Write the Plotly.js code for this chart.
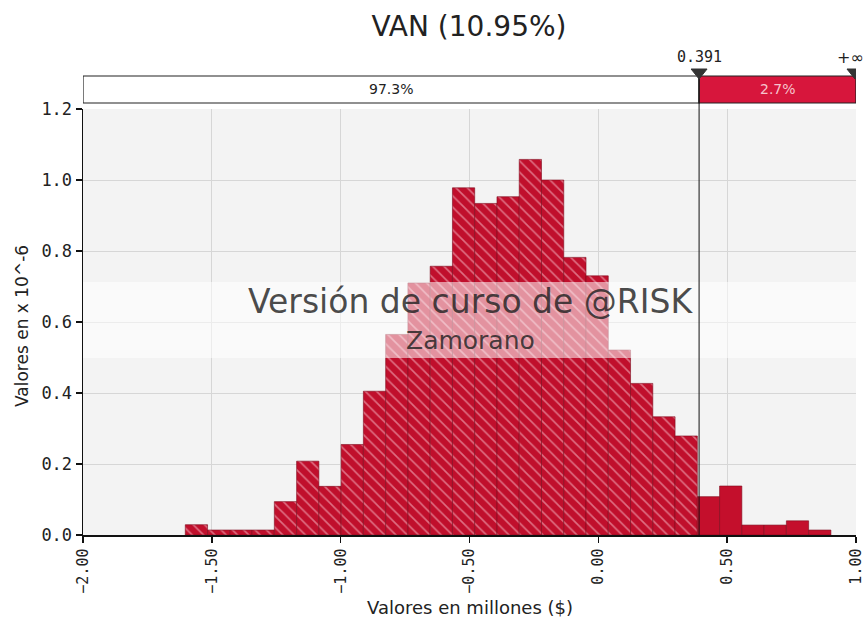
<!DOCTYPE html>
<html>
<head>
<meta charset="utf-8">
<script src="https://cdn.plot.ly/plotly-3.0.1.min.js"></script>
<style>html,body{margin:0;padding:0;background:#fff;}#chart{width:864px;height:625px;}</style>
</head>
<body>
<div id="chart"></div>
<script>
// ---- data ----
const chartTitle = "VAN (10.95%)";
const xAxisTitle = "Valores en millones ($)";
const yAxisTitle = "Valores en x 10^-6";
const binWidth = 0.0864;
// lower edges of the histogram bins (millions $)
const binLeft = [-1.6030, -1.5166, -1.4302, -1.3438, -1.2574, -1.1710, -1.0846, -0.9982,
  -0.9118, -0.8254, -0.7390, -0.6526, -0.5662, -0.4798, -0.3934, -0.3070, -0.2206, -0.1342,
  -0.0478, 0.0386, 0.1250, 0.2114, 0.2978, 0.3842, 0.4706, 0.5570, 0.6434, 0.7298, 0.8162];
// bar heights (x 10^-6)
const density = [0.029, 0.014, 0.014, 0.014, 0.094, 0.208, 0.137, 0.255, 0.405, 0.565,
  0.710, 0.757, 0.978, 0.934, 0.953, 1.058, 1.000, 0.782, 0.730, 0.521, 0.427, 0.333,
  0.279, 0.108, 0.138, 0.028, 0.028, 0.040, 0.014];
const cutoff = 0.391;
const leftPctLabel = "97.3%";
const rightPctLabel = "2.7%";
const cutoffLabel = "0.391";
const upperLabel = "+\u221E";
const xTickVals = [-2.0, -1.5, -1.0, -0.5, 0.0, 0.5, 1.0];
const watermark1 = "Versi\u00F3n de curso de @RISK";
const watermark2 = "Zamorano";

// split bins into the left (hatched) and right (solid) regions
const split = 23;
const xLeft = binLeft.slice(0, split), yLeft = density.slice(0, split);
const xRight = binLeft.slice(split), yRight = density.slice(split);

const red = "#C00F2C";
const traces = [
  {
    type: "bar", x: xLeft, y: yLeft, offset: 0, width: binWidth,
    marker: {
      color: red,
      line: {color: "#7d0a1c", width: 0.6},
      pattern: {shape: "\\", fgcolor: "rgba(255,215,225,0.95)", bgcolor: red, size: 8, solidity: 0.2, fillmode: "overlay"}
    },
    hoverinfo: "x+y", showlegend: false
  },
  {
    type: "bar", x: xRight, y: yRight, offset: 0, width: binWidth,
    marker: {color: "#C40F2C", line: {color: "#7d0a1c", width: 0.6}},
    hoverinfo: "x+y", showlegend: false
  }
];

// pixel helpers for positions outside the plot (paper coords)
const plotLeft = 83, plotRight = 856, plotTop = 109, plotBottom = 535;
const plotH = plotBottom - plotTop, plotW = plotRight - plotLeft;
const py = p => (plotBottom - p) / plotH;
const px = p => (p - plotLeft) / plotW;
const xMax = xTickVals[xTickVals.length - 1];

const shapes = [
  // watermark band
  {type: "rect", xref: "paper", yref: "paper", x0: 0, x1: 1, y0: py(358), y1: py(282),
   fillcolor: "rgba(255,255,255,0.55)", line: {width: 0}, layer: "above"},
  // top strip: left part
  {type: "rect", xref: "x", yref: "paper", x0: xTickVals[0], x1: cutoff, y0: py(103), y1: py(76),
   fillcolor: "#ffffff", line: {color: "#222", width: 1.2}},
  // top strip: right part
  {type: "rect", xref: "x", yref: "paper", x0: cutoff, x1: xMax, y0: py(103), y1: py(76),
   fillcolor: "#D7163C", line: {color: "#222", width: 1.2}},
  // cutoff line
  {type: "line", xref: "x", yref: "paper", x0: cutoff, x1: cutoff, y0: 0, y1: py(76),
   line: {color: "#111", width: 1}, layer: "above"},
];
function tri(xc) {
  const hw = 0.031;
  return {type: "path", xref: "x", yref: "paper",
    path: `M ${xc - hw} ${py(69)} L ${xc + hw} ${py(69)} L ${xc} ${py(79)} Z`,
    fillcolor: "#333", line: {color: "#333", width: 1}};
}
shapes.push(tri(cutoff));
shapes.push(tri(xMax - 0.004));

const sans = "DejaVu Sans, Verdana, sans-serif";
const mono = "DejaVu Sans Mono, monospace";
const annotations = [
  {xref: "x", yref: "paper", x: (xTickVals[0] + cutoff) / 2, y: py(89.5), yanchor: "middle", text: leftPctLabel, showarrow: false,
   font: {family: sans, size: 14, color: "#222"}},
  {xref: "x", yref: "paper", x: (cutoff + xMax) / 2, y: py(89.5), yanchor: "middle", text: rightPctLabel, showarrow: false,
   font: {family: sans, size: 14, color: "#f6c4cc"}},
  {xref: "x", yref: "paper", x: cutoff, y: py(57), yanchor: "middle", text: cutoffLabel, showarrow: false,
   font: {family: mono, size: 15, color: "#222"}},
  {xref: "paper", yref: "paper", x: px(866), y: py(57), xanchor: "right", yanchor: "middle", text: upperLabel, showarrow: false,
   font: {family: sans, size: 16, color: "#222"}},
  {xref: "paper", yref: "paper", x: px(470), y: py(301), yanchor: "middle", text: watermark1, showarrow: false,
   font: {family: sans, size: 33, color: "rgba(35,35,35,0.82)"}},
  {xref: "paper", yref: "paper", x: px(470), y: py(340), yanchor: "middle", text: watermark2, showarrow: false,
   font: {family: sans, size: 25, color: "rgba(35,35,35,0.82)"}},
  // axis titles
  {xref: "paper", yref: "paper", x: px(470), y: py(607), yanchor: "middle", xanchor: "center", text: xAxisTitle, showarrow: false,
   font: {family: sans, size: 18, color: "#222"}},
  {xref: "paper", yref: "paper", x: px(22), y: py(326), yanchor: "middle", xanchor: "center", textangle: -90, text: yAxisTitle, showarrow: false,
   font: {family: sans, size: 17, color: "#222"}},
];

const layout = {
  width: 864, height: 625,
  margin: {l: plotLeft, r: 864 - plotRight, t: plotTop, b: 625 - plotBottom, pad: 0},
  paper_bgcolor: "#ffffff",
  plot_bgcolor: "#F3F3F3",
  bargap: 0,
  title: {text: chartTitle, x: 469 / 864, xanchor: "center", y: 1 - 26 / 625, yanchor: "middle", yref: "container",
    font: {family: sans, size: 28, color: "#222"}},
  xaxis: {
    range: [xTickVals[0], xMax],
    tickvals: xTickVals, tickformat: ".2f", tickangle: -90,
    ticks: "outside", ticklen: 6, tickcolor: "#111", tickwidth: 1.5,
    showline: true, linecolor: "#111", linewidth: 1.5,
    showgrid: true, gridcolor: "#D6D6D6", gridwidth: 1, zeroline: false,
    ticklabeloverflow: "allow", automargin: false,
    tickfont: {family: mono, size: 15, color: "#222"},
    fixedrange: true
  },
  yaxis: {
    range: [0, 1.2], dtick: 0.2, tickformat: ".1f",
    ticks: "outside", ticklen: 6, tickcolor: "#111", tickwidth: 1.5,
    showline: true, linecolor: "#111", linewidth: 1.5,
    showgrid: true, gridcolor: "#D6D6D6", gridwidth: 1, zeroline: false,
    automargin: false,
    tickfont: {family: mono, size: 17, color: "#222"},
    fixedrange: true
  },
  shapes: shapes,
  annotations: annotations
};

Plotly.newPlot("chart", traces, layout, {displayModeBar: false, staticPlot: true});
</script>
</body>
</html>
